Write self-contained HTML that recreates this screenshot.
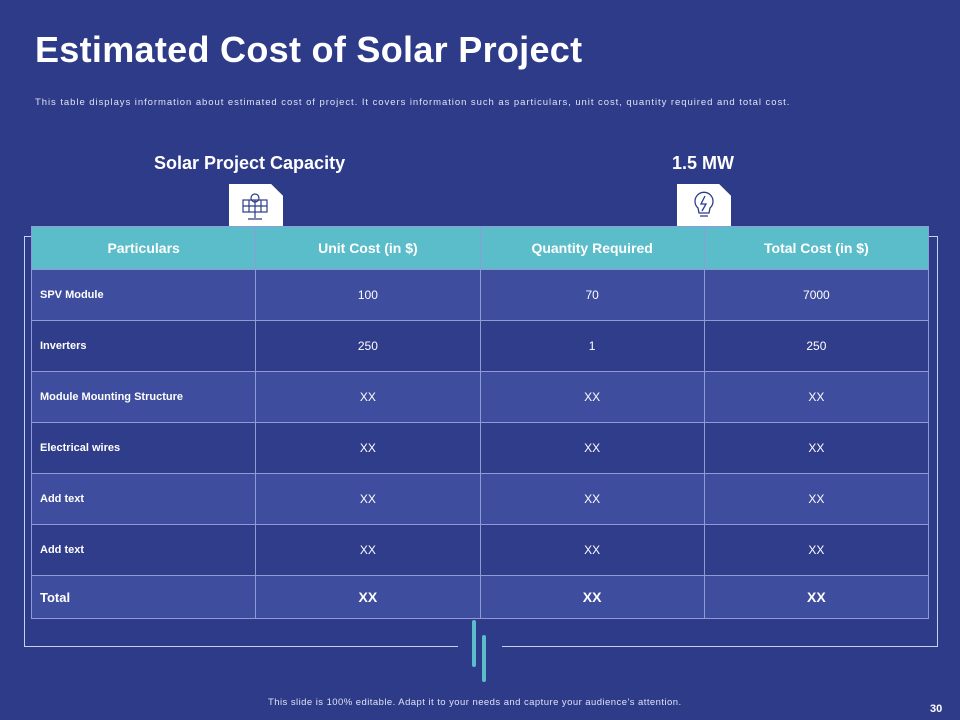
<!DOCTYPE html>
<html><head><meta charset="utf-8"><style>
body{margin:0;width:960px;height:720px;background:#2d3b89;font-family:"Liberation Sans",sans-serif;color:#fff;position:relative;overflow:hidden}
.a{position:absolute}
table{position:absolute;left:31px;top:226px;width:898px;border-collapse:collapse;table-layout:fixed}
td,th{border:1px solid #8f9ad6;font-size:12px;text-align:center;padding:0}
th{background:#5bbdca;height:42px;font-size:14px;font-weight:bold}
td{height:50px}
td:first-child{text-align:left;padding-left:8px;font-weight:bold;font-size:11px}
tr.l td{background:#3f4d9e}
tr.d td{background:#2f3d8b}
tr.t td{height:42px;font-weight:bold;font-size:14px;background:#3f4d9e}
tr.t td:first-child{font-size:13px}
.ic{background:#fff;width:54px;height:42px;clip-path:polygon(0 0,78% 0,100% 28%,100% 100%,0 100%)}
</style></head><body>
<div class="a" style="left:35px;top:29px;font-size:36px;font-weight:bold;letter-spacing:0.3px">Estimated Cost of Solar Project</div>
<div class="a" style="left:35px;top:97px;font-size:9.5px;letter-spacing:0.95px;color:#dfe3f5;white-space:nowrap">This table displays information about estimated cost of project. It covers information such as particulars, unit cost, quantity required and total cost.</div>
<div class="a" style="left:154px;top:153px;font-size:18px;font-weight:bold">Solar Project Capacity</div>
<div class="a" style="left:672px;top:153px;font-size:18px;font-weight:bold">1.5 MW</div>
<div class="a ic" style="left:229px;top:184px"><svg width="54" height="42"><g stroke="#2d3b89" fill="none" stroke-width="1.2"><circle cx="26" cy="14" r="4"/><rect x="14" y="16" width="24" height="12"/><line x1="14" y1="22" x2="38" y2="22"/><line x1="20" y1="16" x2="20" y2="28"/><line x1="26" y1="16" x2="26" y2="28"/><line x1="32" y1="16" x2="32" y2="28"/><line x1="26" y1="28" x2="26" y2="34"/><line x1="19" y1="35" x2="33" y2="35"/></g></svg></div>
<div class="a ic" style="left:677px;top:184px"><svg width="54" height="42"><g stroke="#2d3b89" fill="none" stroke-width="1.3"><path d="M21 24 A9 9 0 1 1 33 24 L32 29 L22 29 Z"/><line x1="23" y1="32" x2="31" y2="32"/><path d="M28 12 L24 20 L29 20 L25 27"/></g></svg></div>
<div class="a" style="left:24px;top:236px;width:912px;height:410px;border:1px solid #c9cfee;border-bottom:none"></div>
<div class="a" style="left:24px;top:646px;width:434px;height:1px;background:#c9cfee"></div>
<div class="a" style="left:502px;top:646px;width:435px;height:1px;background:#c9cfee"></div>
<div class="a" style="left:472px;top:620px;width:4px;height:47px;background:#5bbdca;border-radius:2px"></div>
<div class="a" style="left:482px;top:635px;width:4px;height:47px;background:#5bbdca;border-radius:2px"></div>
<table>
<tr><th>Particulars</th><th>Unit Cost (in $)</th><th>Quantity Required</th><th>Total Cost (in $)</th></tr>
<tr class="l"><td>SPV Module</td><td>100</td><td>70</td><td>7000</td></tr>
<tr class="d"><td>Inverters</td><td>250</td><td>1</td><td>250</td></tr>
<tr class="l"><td>Module Mounting Structure</td><td>XX</td><td>XX</td><td>XX</td></tr>
<tr class="d"><td>Electrical wires</td><td>XX</td><td>XX</td><td>XX</td></tr>
<tr class="l"><td>Add text</td><td>XX</td><td>XX</td><td>XX</td></tr>
<tr class="d"><td>Add text</td><td>XX</td><td>XX</td><td>XX</td></tr>
<tr class="t"><td>Total</td><td>XX</td><td>XX</td><td>XX</td></tr>
</table>
<div class="a" style="left:268px;top:697px;font-size:9.5px;letter-spacing:0.45px;color:#dfe3f5;white-space:nowrap">This slide is 100% editable. Adapt it to your needs and capture your audience's attention.</div>
<div class="a" style="left:930px;top:703px;font-size:11px;font-weight:bold">30</div>
</body></html>
